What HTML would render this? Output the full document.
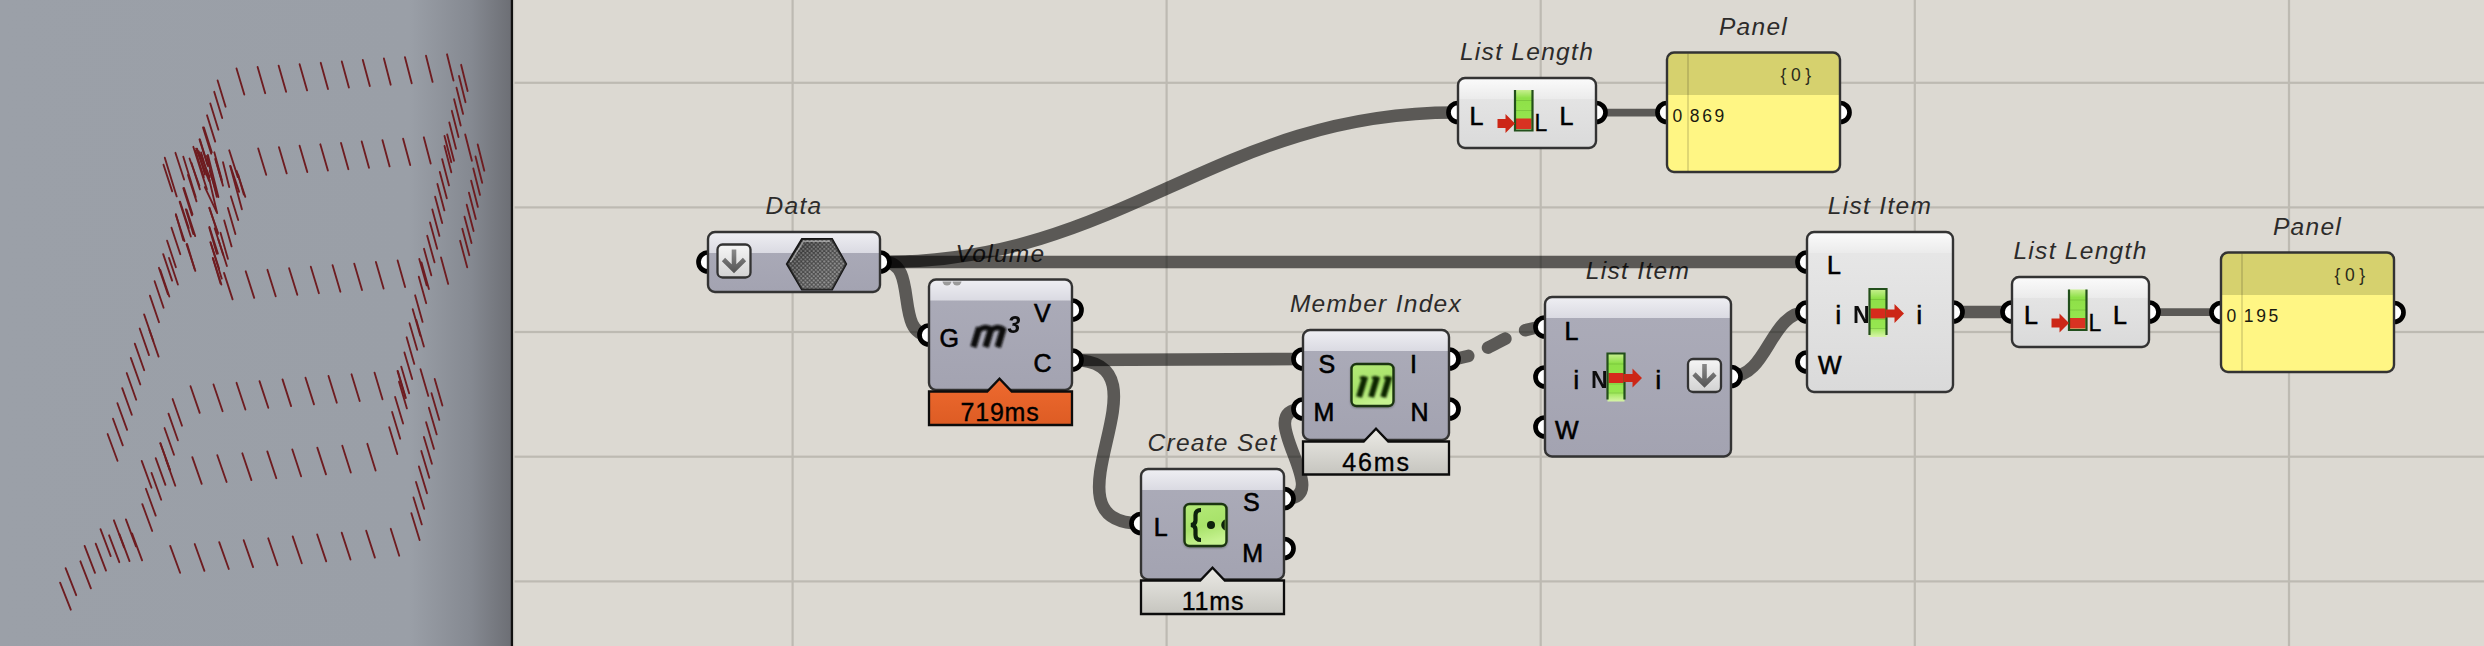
<!DOCTYPE html>
<html><head><meta charset="utf-8"><style>
html,body{margin:0;padding:0;width:2484px;height:646px;overflow:hidden;background:#dcd9d2}
svg{display:block}
</style></head><body>
<svg width="2484" height="646" viewBox="0 0 2484 646">
<defs>
<linearGradient id="vp" x1="0" y1="0" x2="1" y2="0">
 <stop offset="0" stop-color="#9ba0a8"/>
 <stop offset="0.80" stop-color="#9a9fa7"/>
 <stop offset="0.92" stop-color="#858991"/>
 <stop offset="1" stop-color="#6c6e74"/>
</linearGradient>
<linearGradient id="dtop" x1="0" y1="0" x2="0" y2="1">
 <stop offset="0" stop-color="#efeff3"/><stop offset="1" stop-color="#dadae2"/>
</linearGradient>
<linearGradient id="dbot" x1="0" y1="0" x2="0" y2="1">
 <stop offset="0" stop-color="#acacb9"/><stop offset="1" stop-color="#a3a3b1"/>
</linearGradient>
<linearGradient id="ltop" x1="0" y1="0" x2="0" y2="1">
 <stop offset="0" stop-color="#fbfbfb"/><stop offset="1" stop-color="#ebebeb"/>
</linearGradient>
<linearGradient id="lbot" x1="0" y1="0" x2="0" y2="1">
 <stop offset="0" stop-color="#e8e8e8"/><stop offset="1" stop-color="#dadada"/>
</linearGradient>
<linearGradient id="org" x1="0" y1="0" x2="0" y2="1">
 <stop offset="0" stop-color="#ee6a2f"/><stop offset="1" stop-color="#dd5c24"/>
</linearGradient>
<linearGradient id="gry" x1="0" y1="0" x2="0" y2="1">
 <stop offset="0" stop-color="#ebeae5"/><stop offset="1" stop-color="#c6c5bf"/>
</linearGradient>
<linearGradient id="btn" x1="0" y1="0" x2="0" y2="1">
 <stop offset="0" stop-color="#f6f6f6"/><stop offset="1" stop-color="#d2d2d2"/>
</linearGradient>
<linearGradient id="arw" x1="0" y1="0" x2="0" y2="1">
 <stop offset="0" stop-color="#8a8a8a"/><stop offset="1" stop-color="#5a5a5a"/>
</linearGradient>
<linearGradient id="grn" x1="0" y1="0" x2="0.3" y2="1">
 <stop offset="0" stop-color="#b4ea78"/><stop offset="0.6" stop-color="#a8e26a"/><stop offset="1" stop-color="#c6f290"/>
</linearGradient>
<linearGradient id="bar" x1="0" y1="0" x2="0" y2="1">
 <stop offset="0" stop-color="#c8f090"/><stop offset="0.2" stop-color="#8ee048"/><stop offset="0.8" stop-color="#96e650"/><stop offset="1" stop-color="#d8f4a8"/>
</linearGradient>
<pattern id="dots" x="0" y="0" width="4.2" height="4.2" patternUnits="userSpaceOnUse">
 <rect width="4.2" height="4.2" fill="#3a3a3a"/><circle cx="1.05" cy="1.05" r="1.05" fill="#8c8c8c"/><circle cx="3.15" cy="3.15" r="1.05" fill="#8c8c8c"/>
</pattern>
<linearGradient id="hexsh" x1="0" y1="0" x2="1" y2="1">
 <stop offset="0" stop-color="#000" stop-opacity="0.35"/><stop offset="1" stop-color="#fff" stop-opacity="0.12"/>
</linearGradient>
<filter id="b1" x="-20%" y="-20%" width="140%" height="140%"><feGaussianBlur stdDeviation="0.8"/></filter>
<filter id="b05" x="-20%" y="-20%" width="140%" height="140%"><feGaussianBlur stdDeviation="0.5"/></filter>
<filter id="sh" x="-20%" y="-20%" width="140%" height="140%"><feGaussianBlur stdDeviation="1.2"/></filter>
</defs>
<rect x="0" y="0" width="512" height="646" fill="url(#vp)"/>
<g stroke="#6e1c20" stroke-width="1.85" stroke-linecap="round"><line x1="236.5" y1="68.4" x2="244.3" y2="94.6"/><line x1="257.6" y1="67.0" x2="265.2" y2="93.2"/><line x1="278.6" y1="65.6" x2="286.1" y2="91.8"/><line x1="299.6" y1="64.2" x2="307.1" y2="90.4"/><line x1="320.7" y1="62.8" x2="328.0" y2="89.0"/><line x1="341.8" y1="61.4" x2="348.9" y2="87.6"/><line x1="362.8" y1="59.9" x2="369.8" y2="86.1"/><line x1="383.9" y1="58.5" x2="390.7" y2="84.7"/><line x1="404.9" y1="57.1" x2="411.7" y2="83.3"/><line x1="426.0" y1="55.7" x2="432.6" y2="81.9"/><line x1="447.0" y1="54.3" x2="453.5" y2="80.5"/><line x1="258.2" y1="148.5" x2="266.2" y2="174.8"/><line x1="278.9" y1="147.1" x2="286.7" y2="173.4"/><line x1="299.6" y1="145.7" x2="307.3" y2="172.0"/><line x1="320.3" y1="144.3" x2="327.9" y2="170.6"/><line x1="341.0" y1="142.9" x2="348.4" y2="169.2"/><line x1="361.7" y1="141.5" x2="369.0" y2="167.8"/><line x1="382.4" y1="140.1" x2="389.6" y2="166.4"/><line x1="403.1" y1="138.7" x2="410.2" y2="165.0"/><line x1="423.8" y1="137.3" x2="430.7" y2="163.6"/><line x1="444.5" y1="135.9" x2="451.3" y2="162.2"/><line x1="465.2" y1="134.5" x2="471.9" y2="160.8"/><line x1="224.0" y1="272.9" x2="232.6" y2="299.4"/><line x1="245.7" y1="271.3" x2="254.2" y2="297.9"/><line x1="267.4" y1="269.8" x2="275.7" y2="296.3"/><line x1="289.1" y1="268.2" x2="297.3" y2="294.8"/><line x1="310.8" y1="266.7" x2="318.9" y2="293.2"/><line x1="332.5" y1="265.1" x2="340.4" y2="291.7"/><line x1="354.2" y1="263.6" x2="362.0" y2="290.1"/><line x1="375.9" y1="262.0" x2="383.6" y2="288.6"/><line x1="397.6" y1="260.5" x2="405.1" y2="287.0"/><line x1="419.3" y1="258.9" x2="426.7" y2="285.4"/><line x1="441.0" y1="257.4" x2="448.2" y2="283.9"/><line x1="190.5" y1="386.2" x2="199.7" y2="412.9"/><line x1="213.5" y1="384.5" x2="222.6" y2="411.2"/><line x1="236.5" y1="382.8" x2="245.4" y2="409.5"/><line x1="259.5" y1="381.1" x2="268.3" y2="407.8"/><line x1="282.5" y1="379.4" x2="291.1" y2="406.1"/><line x1="305.5" y1="377.7" x2="314.0" y2="404.4"/><line x1="328.5" y1="376.0" x2="336.8" y2="402.7"/><line x1="351.5" y1="374.3" x2="359.7" y2="401.0"/><line x1="374.5" y1="372.6" x2="382.5" y2="399.3"/><line x1="397.5" y1="370.9" x2="405.4" y2="397.6"/><line x1="420.5" y1="369.2" x2="428.3" y2="395.9"/><line x1="192.3" y1="457.1" x2="201.7" y2="483.9"/><line x1="217.3" y1="455.2" x2="226.6" y2="482.0"/><line x1="242.3" y1="453.3" x2="251.4" y2="480.1"/><line x1="267.3" y1="451.4" x2="276.3" y2="478.2"/><line x1="292.3" y1="449.5" x2="301.1" y2="476.3"/><line x1="317.3" y1="447.6" x2="326.0" y2="474.4"/><line x1="342.3" y1="445.7" x2="350.8" y2="472.5"/><line x1="367.3" y1="443.8" x2="375.6" y2="470.6"/><line x1="170.2" y1="545.9" x2="180.1" y2="572.8"/><line x1="194.7" y1="544.0" x2="204.4" y2="570.9"/><line x1="219.2" y1="542.1" x2="228.8" y2="569.0"/><line x1="243.7" y1="540.2" x2="253.1" y2="567.1"/><line x1="268.2" y1="538.3" x2="277.5" y2="565.2"/><line x1="292.7" y1="536.4" x2="301.8" y2="563.3"/><line x1="317.2" y1="534.5" x2="326.2" y2="561.4"/><line x1="341.7" y1="532.6" x2="350.5" y2="559.5"/><line x1="366.2" y1="530.7" x2="374.9" y2="557.6"/><line x1="390.7" y1="528.8" x2="399.2" y2="555.7"/><line x1="461.1" y1="64.8" x2="467.6" y2="91.0"/><line x1="459.0" y1="76.0" x2="465.5" y2="102.2"/><line x1="456.5" y1="87.7" x2="463.1" y2="113.9"/><line x1="454.1" y1="99.2" x2="460.7" y2="125.5"/><line x1="451.8" y1="110.8" x2="458.5" y2="137.1"/><line x1="449.3" y1="122.5" x2="456.0" y2="148.8"/><line x1="447.2" y1="134.5" x2="454.0" y2="160.8"/><line x1="442.1" y1="159.1" x2="449.0" y2="185.4"/><line x1="439.8" y1="171.9" x2="446.8" y2="198.3"/><line x1="437.4" y1="184.0" x2="444.4" y2="210.4"/><line x1="435.1" y1="196.7" x2="442.2" y2="223.1"/><line x1="432.3" y1="209.5" x2="439.4" y2="235.9"/><line x1="430.0" y1="222.4" x2="437.2" y2="248.8"/><line x1="427.2" y1="235.8" x2="434.5" y2="262.3"/><line x1="424.0" y1="248.8" x2="431.3" y2="275.3"/><line x1="418.8" y1="276.7" x2="426.2" y2="303.2"/><line x1="415.1" y1="295.3" x2="422.6" y2="321.9"/><line x1="412.7" y1="309.2" x2="420.3" y2="335.8"/><line x1="409.5" y1="323.2" x2="417.2" y2="349.8"/><line x1="406.6" y1="337.3" x2="414.3" y2="363.9"/><line x1="404.4" y1="352.5" x2="412.2" y2="379.1"/><line x1="401.2" y1="366.6" x2="409.1" y2="393.3"/><line x1="397.9" y1="371.3" x2="405.8" y2="398.0"/><line x1="399.0" y1="381.7" x2="406.9" y2="408.4"/><line x1="395.1" y1="396.9" x2="403.1" y2="423.6"/><line x1="392.1" y1="412.0" x2="400.2" y2="438.7"/><line x1="389.2" y1="427.2" x2="397.3" y2="454.0"/><line x1="416.3" y1="320.0" x2="423.9" y2="346.6"/><line x1="421.5" y1="262.5" x2="428.9" y2="289.0"/><line x1="444.5" y1="146.0" x2="451.3" y2="172.3"/><line x1="477.7" y1="144.4" x2="484.3" y2="170.7"/><line x1="475.5" y1="156.5" x2="482.2" y2="182.8"/><line x1="473.3" y1="168.5" x2="480.0" y2="194.9"/><line x1="471.1" y1="180.6" x2="477.9" y2="206.9"/><line x1="468.9" y1="192.6" x2="475.8" y2="219.0"/><line x1="466.7" y1="204.7" x2="473.6" y2="231.1"/><line x1="464.5" y1="216.7" x2="471.5" y2="243.1"/><line x1="462.3" y1="228.8" x2="469.3" y2="255.2"/><line x1="460.1" y1="240.8" x2="467.2" y2="267.3"/><line x1="434.7" y1="378.9" x2="442.4" y2="405.6"/><line x1="431.5" y1="393.2" x2="439.3" y2="419.9"/><line x1="428.9" y1="407.7" x2="436.7" y2="434.4"/><line x1="426.1" y1="422.2" x2="434.0" y2="448.9"/><line x1="423.9" y1="437.0" x2="431.9" y2="463.8"/><line x1="421.3" y1="451.0" x2="429.3" y2="477.8"/><line x1="418.9" y1="466.5" x2="427.0" y2="493.3"/><line x1="416.0" y1="482.0" x2="424.2" y2="508.8"/><line x1="413.5" y1="497.5" x2="421.8" y2="524.4"/><line x1="411.3" y1="513.1" x2="419.6" y2="540.0"/><line x1="217.6" y1="80.5" x2="225.6" y2="106.7"/><line x1="214.2" y1="91.8" x2="222.2" y2="118.0"/><line x1="210.3" y1="103.4" x2="218.4" y2="129.7"/><line x1="207.0" y1="115.3" x2="215.2" y2="141.6"/><line x1="203.0" y1="127.4" x2="211.2" y2="153.7"/><line x1="199.5" y1="139.4" x2="207.8" y2="165.7"/><line x1="195.5" y1="151.0" x2="203.8" y2="177.3"/><line x1="191.5" y1="163.0" x2="199.9" y2="189.4"/><line x1="188.0" y1="175.0" x2="196.5" y2="201.4"/><line x1="184.0" y1="188.0" x2="192.5" y2="214.4"/><line x1="180.1" y1="201.7" x2="188.7" y2="228.1"/><line x1="175.8" y1="214.7" x2="184.5" y2="241.1"/><line x1="171.5" y1="227.7" x2="180.3" y2="254.2"/><line x1="167.1" y1="240.7" x2="175.9" y2="267.2"/><line x1="163.2" y1="254.1" x2="172.1" y2="280.6"/><line x1="158.9" y1="267.8" x2="167.9" y2="294.3"/><line x1="154.6" y1="281.2" x2="163.6" y2="307.7"/><line x1="149.9" y1="295.6" x2="159.0" y2="322.2"/><line x1="144.1" y1="314.4" x2="153.3" y2="341.0"/><line x1="139.7" y1="328.5" x2="149.0" y2="355.1"/><line x1="134.8" y1="343.6" x2="144.2" y2="370.2"/><line x1="130.8" y1="357.9" x2="140.3" y2="384.5"/><line x1="126.7" y1="373.0" x2="136.2" y2="399.7"/><line x1="122.2" y1="388.1" x2="131.8" y2="414.8"/><line x1="117.4" y1="403.2" x2="127.1" y2="429.9"/><line x1="113.0" y1="418.7" x2="122.8" y2="445.4"/><line x1="107.6" y1="434.0" x2="117.5" y2="460.8"/><line x1="149.4" y1="330.0" x2="158.6" y2="356.6"/><line x1="160.3" y1="270.0" x2="169.3" y2="296.5"/><line x1="169.0" y1="258.0" x2="177.9" y2="284.5"/><line x1="172.6" y1="399.0" x2="182.0" y2="425.7"/><line x1="168.5" y1="413.6" x2="177.9" y2="440.3"/><line x1="164.5" y1="428.0" x2="174.0" y2="454.8"/><line x1="160.3" y1="443.1" x2="169.9" y2="469.9"/><line x1="155.7" y1="458.1" x2="165.4" y2="484.9"/><line x1="151.5" y1="472.9" x2="161.2" y2="499.7"/><line x1="145.9" y1="488.8" x2="155.7" y2="515.6"/><line x1="142.3" y1="504.1" x2="152.2" y2="531.0"/><line x1="141.7" y1="460.9" x2="151.5" y2="487.7"/><line x1="60.1" y1="582.7" x2="70.8" y2="609.7"/><line x1="65.6" y1="568.2" x2="76.2" y2="595.2"/><line x1="80.4" y1="561.3" x2="90.9" y2="588.3"/><line x1="84.6" y1="545.9" x2="95.0" y2="572.8"/><line x1="95.7" y1="543.7" x2="106.0" y2="570.6"/><line x1="100.5" y1="529.2" x2="110.7" y2="556.1"/><line x1="109.1" y1="535.3" x2="119.3" y2="562.2"/><line x1="113.9" y1="520.3" x2="124.0" y2="547.2"/><line x1="119.4" y1="534.2" x2="129.5" y2="561.1"/><line x1="125.9" y1="519.4" x2="136.0" y2="546.3"/><line x1="132.0" y1="533.4" x2="142.1" y2="560.3"/><line x1="186.6" y1="209.7" x2="195.2" y2="236.1"/><line x1="186.6" y1="244.4" x2="195.3" y2="270.9"/><line x1="209.4" y1="207.6" x2="217.9" y2="234.0"/><line x1="209.4" y1="227.0" x2="217.9" y2="253.5"/><line x1="210.5" y1="242.2" x2="219.1" y2="268.7"/><line x1="214.7" y1="228.3" x2="223.2" y2="254.8"/><line x1="218.4" y1="239.5" x2="226.9" y2="266.0"/><line x1="212.8" y1="258.0" x2="221.4" y2="284.5"/><line x1="160.4" y1="443.3" x2="170.0" y2="470.1"/><line x1="165.7" y1="458.9" x2="175.3" y2="485.7"/><line x1="164.8" y1="157.7" x2="176.7" y2="196.4"/><line x1="163.5" y1="164.7" x2="172.2" y2="191.4"/><line x1="175.4" y1="152.8" x2="184.1" y2="179.5"/><line x1="183.3" y1="188.2" x2="192.0" y2="215.4"/><line x1="183.3" y1="156.7" x2="195.7" y2="196.9"/><line x1="189.5" y1="158.5" x2="199.4" y2="185.7"/><line x1="193.3" y1="146.8" x2="206.9" y2="189.4"/><line x1="197.0" y1="148.6" x2="204.9" y2="174.6"/><line x1="199.9" y1="139.4" x2="208.1" y2="165.9"/><line x1="214.3" y1="152.3" x2="221.7" y2="179.5"/><line x1="215.5" y1="159.7" x2="223.0" y2="185.7"/><line x1="223.0" y1="162.2" x2="229.2" y2="187.0"/><line x1="229.2" y1="150.3" x2="237.8" y2="177.1"/><line x1="230.4" y1="165.9" x2="239.1" y2="191.9"/><line x1="236.6" y1="170.9" x2="245.3" y2="196.9"/><line x1="206.9" y1="156.0" x2="216.8" y2="196.9"/><line x1="209.3" y1="179.5" x2="216.8" y2="211.7"/><line x1="179.6" y1="201.8" x2="190.8" y2="236.5"/><line x1="185.8" y1="209.3" x2="193.3" y2="234.0"/><line x1="175.9" y1="214.2" x2="183.3" y2="240.2"/><line x1="187.1" y1="243.9" x2="194.5" y2="268.7"/><line x1="209.3" y1="208.0" x2="218.0" y2="232.8"/><line x1="209.3" y1="227.8" x2="216.8" y2="253.8"/><line x1="224.2" y1="220.4" x2="231.6" y2="246.4"/><line x1="227.9" y1="208.0" x2="235.4" y2="234.0"/><line x1="220.5" y1="232.8" x2="227.9" y2="258.8"/><line x1="210.6" y1="242.7" x2="221.7" y2="278.6"/><line x1="213.1" y1="258.8" x2="220.5" y2="283.6"/><line x1="203.9" y1="127.5" x2="211.8" y2="152.3"/><line x1="196.1" y1="148.7" x2="209.1" y2="180.9"/><line x1="198.6" y1="151.1" x2="209.7" y2="177.2"/><line x1="207.9" y1="154.9" x2="218.4" y2="197.0"/><line x1="209.7" y1="171.0" x2="217.2" y2="195.7"/><line x1="215.3" y1="158.6" x2="222.1" y2="182.1"/><line x1="230.2" y1="166.0" x2="241.9" y2="209.3"/><line x1="238.2" y1="174.7" x2="243.8" y2="194.5"/><line x1="230.8" y1="196.3" x2="238.2" y2="220.0"/><line x1="204.8" y1="187.1" x2="217.2" y2="213.1"/><line x1="201.1" y1="152.4" x2="209.7" y2="180.9"/></g>
<rect x="510.8" y="0" width="2.4" height="646" fill="#111"/>
<rect x="513.2" y="0" width="1.3" height="646" fill="#c9c6bf"/>
<rect x="514.5" y="0" width="1970" height="646" fill="#dcd9d2"/>
<g fill="#bdbab2">
<rect x="514.5" y="81.7" width="1970" height="2.2"/>
<rect x="514.5" y="206.3" width="1970" height="2.2"/>
<rect x="514.5" y="330.9" width="1970" height="2.2"/>
<rect x="514.5" y="455.6" width="1970" height="2.2"/>
<rect x="514.5" y="580.3" width="1970" height="2.2"/>
<rect x="791.5" y="0" width="2.2" height="646"/>
<rect x="1165.5" y="0" width="2.2" height="646"/>
<rect x="1539.6" y="0" width="2.2" height="646"/>
<rect x="1913.7" y="0" width="2.2" height="646"/>
<rect x="2287.9" y="0" width="2.2" height="646"/>
</g>
<g font-family="Liberation Sans, sans-serif" font-style="italic" font-size="24.5" fill="#2c2b2a" text-anchor="middle" letter-spacing="1.3">
<text x="794" y="214">Data</text>
<text x="1000.5" y="261.5">Volume</text>
<text x="1212.5" y="451">Create Set</text>
<text x="1376" y="312">Member Index</text>
<text x="1638" y="279">List Item</text>
<text x="1880" y="214">List Item</text>
<text x="1527" y="60">List Length</text>
<text x="1753.5" y="34.5">Panel</text>
<text x="2080.5" y="259">List Length</text>
<text x="2307.5" y="234.5">Panel</text>
</g>
<g fill="none" stroke="#000" stroke-opacity="0.59" stroke-width="12.6">
<path d="M884,262 C1123,262 1216,112.5 1455,112.5"/>
<path d="M884,262 C984,262 1707,262 1807,262"/>
<path d="M884,262 C919,262 894,335 929,335"/>
<path d="M1072,360 C1132,360 1243,359 1303,359"/>
<path d="M1072,360 C1179,360 1034,523.5 1141,523.5"/>
<path d="M1284,499 C1338,499 1249,409 1303,409"/>
<path d="M1731,376.5 C1768,376.5 1770,312 1807,312"/>
<path d="M1953,312 C1973,312 1992,312 2012,312"/>
<path d="M2149,312.1 H2221 M1596,112.7 H1667" stroke-width="7.8"/>
<path d="M1449,359 C1484,359 1510,327 1545,327" stroke-linecap="round" stroke-dasharray="19.5 21.5"/>
</g>
<g font-family="Liberation Sans, sans-serif">
<circle cx="708" cy="262" r="9.5" fill="#fff" stroke="#000" stroke-width="4.7"/><circle cx="880" cy="262" r="9.5" fill="#fff" stroke="#000" stroke-width="4.7"/>
<rect x="708" y="232" width="172" height="60" rx="7" fill="url(#dbot)"/><path d="M708,239 a7,7 0 0 1 7,-7 h158 a7,7 0 0 1 7,7 v14 h-172 z" fill="url(#dtop)"/><rect x="708" y="232" width="172" height="60" rx="7" fill="none" stroke="#333" stroke-width="2.4"/>
<rect x="717.5" y="244.5" width="33" height="33" rx="5" fill="url(#btn)" stroke="#333" stroke-width="2.3"/><path d="M734.0,249.5 V269.5 M723.5,259.5 L734.0,270.0 L744.5,259.5" fill="none" stroke="url(#arw)" stroke-width="4.6"/>
<path d="M787,264 L802,239 L832,239 L846,264 L832,289.5 L802,289.5 Z" fill="url(#dots)" stroke="#161616" stroke-width="2.2"/>
<path d="M787,264 L802,239 L832,239 L846,264 L832,289.5 L802,289.5 Z" fill="url(#hexsh)"/>
<path d="M790.5,262 L803.5,241.3 L830,241.3" fill="none" stroke="#fff" stroke-opacity="0.45" stroke-width="1.4"/>
<circle cx="929" cy="335" r="9.5" fill="#fff" stroke="#000" stroke-width="4.7"/><circle cx="1072" cy="310" r="9.5" fill="#fff" stroke="#000" stroke-width="4.7"/><circle cx="1072" cy="360" r="9.5" fill="#fff" stroke="#000" stroke-width="4.7"/>
<rect x="929" y="279.5" width="143" height="110.5" rx="7" fill="url(#dbot)"/><path d="M929,286.5 a7,7 0 0 1 7,-7 h129 a7,7 0 0 1 7,7 v14 h-143 z" fill="url(#dtop)"/><rect x="929" y="279.5" width="143" height="110.5" rx="7" fill="none" stroke="#333" stroke-width="2.4"/>
<clipPath id="vc"><rect x="931" y="281.5" width="139" height="10"/></clipPath><g clip-path="url(#vc)"><circle cx="947" cy="281" r="4.5" fill="#9a9a9a"/><circle cx="957" cy="281" r="4.5" fill="#9a9a9a"/></g>
<path d="M929,391.5 H987.2 L999.5,378.7 L1011.8,391.5 H1072 V425.0 H929 Z" fill="url(#org)" stroke="#0c0c0c" stroke-width="2.3"/><text x="1000.0" y="420.8" font-size="25" letter-spacing="0.8" text-anchor="middle" fill="#000" stroke="#000" stroke-width="0.35">719ms</text>
<text x="939.5" y="346.5" font-size="25" text-anchor="start" fill="#000" stroke="#000" stroke-width="0.6">G</text><text x="1034" y="321.5" font-size="25" text-anchor="start" fill="#000" stroke="#000" stroke-width="0.6">V</text><text x="1033.5" y="371.5" font-size="25" text-anchor="start" fill="#000" stroke="#000" stroke-width="0.6">C</text>
<g filter="url(#b1)" fill="none" stroke="#0c0c0c"><path d="M973.4,347 L979.2,327.5M985.6,347 L991.5,327.5M997.8,347 L1003.6,327.5" stroke-width="6.4"/><path d="M978.2,330.5 Q985.4,325.0 991.5,329.5 M990.5,330.5 Q997.5,325.0 1003.6,329.5" stroke-width="5.4"/><path d="M996.8,346 h4" stroke-width="2.5"/></g>
<text x="1007.5" y="333" font-weight="bold" font-style="italic" font-size="23" fill="#111" filter="url(#b05)">3</text>
<circle cx="1141" cy="523.5" r="9.5" fill="#fff" stroke="#000" stroke-width="4.7"/><circle cx="1284" cy="498.7" r="9.5" fill="#fff" stroke="#000" stroke-width="4.7"/><circle cx="1284" cy="548.5" r="9.5" fill="#fff" stroke="#000" stroke-width="4.7"/>
<rect x="1141" y="469" width="143" height="110.5" rx="7" fill="url(#dbot)"/><path d="M1141,476 a7,7 0 0 1 7,-7 h129 a7,7 0 0 1 7,7 v14 h-143 z" fill="url(#dtop)"/><rect x="1141" y="469" width="143" height="110.5" rx="7" fill="none" stroke="#333" stroke-width="2.4"/>
<path d="M1141,580.5 H1200.2 L1212.5,567.7 L1224.8,580.5 H1284 V614.0 H1141 Z" fill="url(#gry)" stroke="#0c0c0c" stroke-width="2.3"/><text x="1213.0" y="609.8" font-size="25" letter-spacing="0.8" text-anchor="middle" fill="#000" stroke="#000" stroke-width="0.35">11ms</text>
<text x="1153.8" y="535.5" font-size="25" text-anchor="start" fill="#000" stroke="#000" stroke-width="0.6">L</text><text x="1243" y="510.5" font-size="25" text-anchor="start" fill="#000" stroke="#000" stroke-width="0.6">S</text><text x="1242.3" y="561.5" font-size="25" text-anchor="start" fill="#000" stroke="#000" stroke-width="0.6">M</text>
<rect x="1183.5" y="504" width="44" height="44" rx="6" fill="#000" opacity="0.35" filter="url(#sh)"/><rect x="1184.5" y="504" width="42" height="42" rx="5" fill="url(#grn)" stroke="#1b3510" stroke-width="2.4"/>
<clipPath id="csc"><rect x="1185.5" y="505" width="39.3" height="40" rx="4"/></clipPath><g filter="url(#b05)" fill="none" stroke="#0e2008" stroke-width="4.2"><path d="M1201,510 q-5.5,0 -5.5,5 v5.5 q0,4 -4.5,4.5 q4.5,0.5 4.5,4.5 v5.5 q0,5 5.5,5"/></g><g filter="url(#b05)" fill="#0e2008"><circle cx="1211" cy="525" r="4"/><circle cx="1227" cy="525" r="5.8" clip-path="url(#csc)"/></g>
<circle cx="1303" cy="359" r="9.5" fill="#fff" stroke="#000" stroke-width="4.7"/><circle cx="1303" cy="409" r="9.5" fill="#fff" stroke="#000" stroke-width="4.7"/><circle cx="1449" cy="359" r="9.5" fill="#fff" stroke="#000" stroke-width="4.7"/><circle cx="1449" cy="409" r="9.5" fill="#fff" stroke="#000" stroke-width="4.7"/>
<rect x="1303" y="330" width="146" height="110" rx="7" fill="url(#dbot)"/><path d="M1303,337 a7,7 0 0 1 7,-7 h132 a7,7 0 0 1 7,7 v14 h-146 z" fill="url(#dtop)"/><rect x="1303" y="330" width="146" height="110" rx="7" fill="none" stroke="#333" stroke-width="2.4"/>
<path d="M1303,441.5 H1363.7 L1376,428.7 L1388.3,441.5 H1449 V474.5 H1303 Z" fill="url(#gry)" stroke="#0c0c0c" stroke-width="2.3"/><text x="1376.5" y="470.8" font-size="25" letter-spacing="1.9" text-anchor="middle" fill="#000" stroke="#000" stroke-width="0.35">46ms</text>
<text x="1318.5" y="372.5" font-size="25" text-anchor="start" fill="#000" stroke="#000" stroke-width="0.6">S</text><text x="1313.5" y="421" font-size="25" text-anchor="start" fill="#000" stroke="#000" stroke-width="0.6">M</text><text x="1410" y="372.5" font-size="25" text-anchor="start" fill="#000" stroke="#000" stroke-width="0.6">I</text><text x="1410.5" y="421" font-size="25" text-anchor="start" fill="#000" stroke="#000" stroke-width="0.6">N</text>
<rect x="1350.5" y="364" width="44" height="44" rx="6" fill="#000" opacity="0.35" filter="url(#sh)"/><rect x="1351.5" y="364" width="42" height="42" rx="5" fill="url(#grn)" stroke="#1b3510" stroke-width="2.4"/>
<g filter="url(#b1)" fill="none" stroke="#102606"><path d="M1359.0,397 L1365.2,376.5M1371.1,397 L1377.2,376.5M1383.2,397 L1389.4,376.5" stroke-width="6.0"/><path d="M1359.8,377.7 h5.4M1371.8,377.7 h5.4M1384.0,377.7 h5.4" stroke-width="2.4"/><path d="M1382.2,396 h4" stroke-width="2.5"/></g>
<circle cx="1545" cy="327" r="9.5" fill="#fff" stroke="#000" stroke-width="4.7"/><circle cx="1545" cy="377" r="9.5" fill="#fff" stroke="#000" stroke-width="4.7"/><circle cx="1545" cy="427" r="9.5" fill="#fff" stroke="#000" stroke-width="4.7"/><circle cx="1731" cy="376.5" r="9.5" fill="#fff" stroke="#000" stroke-width="4.7"/>
<rect x="1545" y="297" width="186" height="159.5" rx="7" fill="url(#dbot)"/><path d="M1545,304 a7,7 0 0 1 7,-7 h172 a7,7 0 0 1 7,7 v14 h-186 z" fill="url(#dtop)"/><rect x="1545" y="297" width="186" height="159.5" rx="7" fill="none" stroke="#333" stroke-width="2.4"/>
<text x="1564.5" y="339.5" font-size="25" text-anchor="start" fill="#000" stroke="#000" stroke-width="0.6">L</text><text x="1573.5" y="388.5" font-size="25" text-anchor="start" fill="#000" stroke="#000" stroke-width="0.6">i</text><text x="1555" y="439" font-size="25" text-anchor="start" fill="#000" stroke="#000" stroke-width="0.6">W</text><text x="1655.5" y="388.5" font-size="25" text-anchor="start" fill="#000" stroke="#000" stroke-width="0.6">i</text>
<text x="1591.0" y="387.5" font-size="23" font-weight="bold" fill="#111" filter="url(#b05)">N</text><g filter="url(#b05)"><rect x="1607.5" y="353.5" width="17" height="48" fill="url(#bar)"/><rect x="1607.5" y="363.5" width="17" height="1" fill="#5a9a2a" opacity="0.35"/><rect x="1607.5" y="373.5" width="17" height="1" fill="#5a9a2a" opacity="0.35"/><rect x="1607.5" y="383.5" width="17" height="1" fill="#5a9a2a" opacity="0.35"/><rect x="1607.5" y="392.5" width="17" height="1" fill="#5a9a2a" opacity="0.35"/><rect x="1608.5" y="373.0" width="15" height="10" fill="#d62a1c"/><path d="M1607.5,399.5 V353.5 H1624.5 V399.5" fill="none" stroke="#23501a" stroke-width="2.2"/><path d="M1623.5,374.0 h9 v-5.5 l9.5,9.5 l-9.5,9.5 v-5.5 h-9 z" fill="#cc2818"/></g>
<rect x="1688" y="359" width="33" height="33" rx="5" fill="url(#btn)" stroke="#333" stroke-width="2.3"/><path d="M1704.5,364 V384 M1694.0,374 L1704.5,384.5 L1715.0,374" fill="none" stroke="url(#arw)" stroke-width="4.6"/>
<circle cx="1807" cy="262" r="9.5" fill="#fff" stroke="#000" stroke-width="4.7"/><circle cx="1807" cy="312" r="9.5" fill="#fff" stroke="#000" stroke-width="4.7"/><circle cx="1807" cy="362" r="9.5" fill="#fff" stroke="#000" stroke-width="4.7"/><circle cx="1953" cy="312" r="9.5" fill="#fff" stroke="#000" stroke-width="4.7"/>
<rect x="1807" y="232" width="146" height="160" rx="7" fill="url(#lbot)"/><path d="M1807,239 a7,7 0 0 1 7,-7 h132 a7,7 0 0 1 7,7 v14 h-146 z" fill="url(#ltop)"/><rect x="1807" y="232" width="146" height="160" rx="7" fill="none" stroke="#333" stroke-width="2.4"/>
<text x="1827" y="274" font-size="25" text-anchor="start" fill="#000" stroke="#000" stroke-width="0.6">L</text><text x="1835.5" y="324" font-size="25" text-anchor="start" fill="#000" stroke="#000" stroke-width="0.6">i</text><text x="1818" y="374" font-size="25" text-anchor="start" fill="#000" stroke="#000" stroke-width="0.6">W</text><text x="1916.5" y="324" font-size="25" text-anchor="start" fill="#000" stroke="#000" stroke-width="0.6">i</text>
<text x="1853.0" y="323" font-size="23" font-weight="bold" fill="#111" filter="url(#b05)">N</text><g filter="url(#b05)"><rect x="1869.5" y="289" width="17" height="48" fill="url(#bar)"/><rect x="1869.5" y="299" width="17" height="1" fill="#5a9a2a" opacity="0.35"/><rect x="1869.5" y="309" width="17" height="1" fill="#5a9a2a" opacity="0.35"/><rect x="1869.5" y="319" width="17" height="1" fill="#5a9a2a" opacity="0.35"/><rect x="1869.5" y="328" width="17" height="1" fill="#5a9a2a" opacity="0.35"/><rect x="1870.5" y="308.5" width="15" height="10" fill="#d62a1c"/><path d="M1869.5,335 V289 H1886.5 V335" fill="none" stroke="#23501a" stroke-width="2.2"/><path d="M1885.5,309.5 h9 v-5.5 l9.5,9.5 l-9.5,9.5 v-5.5 h-9 z" fill="#cc2818"/></g>
<circle cx="1458" cy="112.5" r="9.5" fill="#fff" stroke="#000" stroke-width="4.7"/><circle cx="1596" cy="112.5" r="9.5" fill="#fff" stroke="#000" stroke-width="4.7"/>
<rect x="1458" y="78" width="138" height="70" rx="7" fill="url(#lbot)"/><path d="M1458,85 a7,7 0 0 1 7,-7 h124 a7,7 0 0 1 7,7 v14 h-138 z" fill="url(#ltop)"/><rect x="1458" y="78" width="138" height="70" rx="7" fill="none" stroke="#333" stroke-width="2.4"/>
<text x="1469.5" y="124.5" font-size="25" text-anchor="start" fill="#000" stroke="#000" stroke-width="0.6">L</text><text x="1559.5" y="124.5" font-size="25" text-anchor="start" fill="#000" stroke="#000" stroke-width="0.6">L</text>
<g filter="url(#b05)"><rect x="1515" y="90" width="17.5" height="40.5" fill="url(#bar)"/><rect x="1515" y="100" width="17.5" height="1" fill="#5a9a2a" opacity="0.35"/><rect x="1515" y="110" width="17.5" height="1" fill="#5a9a2a" opacity="0.35"/><rect x="1516" y="118.5" width="15.5" height="10.5" fill="#d83020"/><path d="M1515,90 V130.5 H1532.5 V90" fill="none" stroke="#23501a" stroke-width="2.2"/><path d="M1497.5,119 h8 v-5 l9.5,9.5 l-9.5,9.5 v-5 h-8 z" fill="#cc2818"/></g><text x="1534.5" y="131" font-size="23" fill="#000" stroke="#000" stroke-width="0.3">L</text>
<circle cx="2012" cy="312" r="9.5" fill="#fff" stroke="#000" stroke-width="4.7"/><circle cx="2149" cy="312" r="9.5" fill="#fff" stroke="#000" stroke-width="4.7"/>
<rect x="2012" y="277" width="137" height="70" rx="7" fill="url(#lbot)"/><path d="M2012,284 a7,7 0 0 1 7,-7 h123 a7,7 0 0 1 7,7 v14 h-137 z" fill="url(#ltop)"/><rect x="2012" y="277" width="137" height="70" rx="7" fill="none" stroke="#333" stroke-width="2.4"/>
<text x="2024" y="323.5" font-size="25" text-anchor="start" fill="#000" stroke="#000" stroke-width="0.6">L</text><text x="2113" y="323.5" font-size="25" text-anchor="start" fill="#000" stroke="#000" stroke-width="0.6">L</text>
<g filter="url(#b05)"><rect x="2069" y="289.5" width="17.5" height="40.5" fill="url(#bar)"/><rect x="2069" y="299.5" width="17.5" height="1" fill="#5a9a2a" opacity="0.35"/><rect x="2069" y="309.5" width="17.5" height="1" fill="#5a9a2a" opacity="0.35"/><rect x="2070" y="318.0" width="15.5" height="10.5" fill="#d83020"/><path d="M2069,289.5 V330.0 H2086.5 V289.5" fill="none" stroke="#23501a" stroke-width="2.2"/><path d="M2051.5,318.5 h8 v-5 l9.5,9.5 l-9.5,9.5 v-5 h-8 z" fill="#cc2818"/></g><text x="2088.5" y="330.5" font-size="23" fill="#000" stroke="#000" stroke-width="0.3">L</text>
<circle cx="1667" cy="112.5" r="9.5" fill="#fff" stroke="#000" stroke-width="4.7"/><circle cx="1840" cy="112.5" r="9.5" fill="#fff" stroke="#000" stroke-width="4.7"/><rect x="1667" y="52.5" width="173" height="119.5" rx="7" fill="#fff684"/><path d="M1667,59.5 a7,7 0 0 1 7,-7 h159 a7,7 0 0 1 7,7 v35.5 h-173 z" fill="#d6d16e"/><rect x="1687.3" y="53.5" width="1.4" height="117.5" fill="#000" fill-opacity="0.18"/><rect x="1667" y="52.5" width="173" height="119.5" rx="7" fill="none" stroke="#333" stroke-width="2.4"/><text x="1780.6" y="81.3" font-size="17.5" letter-spacing="4.6" fill="#2a2a1a">{0}</text><text x="1672.6" y="121.8" font-size="17.5" letter-spacing="2.6" fill="#1a1a10">0</text><text x="1689.8" y="121.8" font-size="17.5" letter-spacing="2.6" fill="#1a1a10">869</text>
<circle cx="2221" cy="312.5" r="9.5" fill="#fff" stroke="#000" stroke-width="4.7"/><circle cx="2394" cy="312.5" r="9.5" fill="#fff" stroke="#000" stroke-width="4.7"/><rect x="2221" y="252.5" width="173" height="119.5" rx="7" fill="#fff684"/><path d="M2221,259.5 a7,7 0 0 1 7,-7 h159 a7,7 0 0 1 7,7 v35.5 h-173 z" fill="#d6d16e"/><rect x="2241.3" y="253.5" width="1.4" height="117.5" fill="#000" fill-opacity="0.18"/><rect x="2221" y="252.5" width="173" height="119.5" rx="7" fill="none" stroke="#333" stroke-width="2.4"/><text x="2334.6" y="281.3" font-size="17.5" letter-spacing="4.6" fill="#2a2a1a">{0}</text><text x="2226.6" y="321.8" font-size="17.5" letter-spacing="2.6" fill="#1a1a10">0</text><text x="2243.8" y="321.8" font-size="17.5" letter-spacing="2.6" fill="#1a1a10">195</text>
</g>
</svg>
</body></html>
